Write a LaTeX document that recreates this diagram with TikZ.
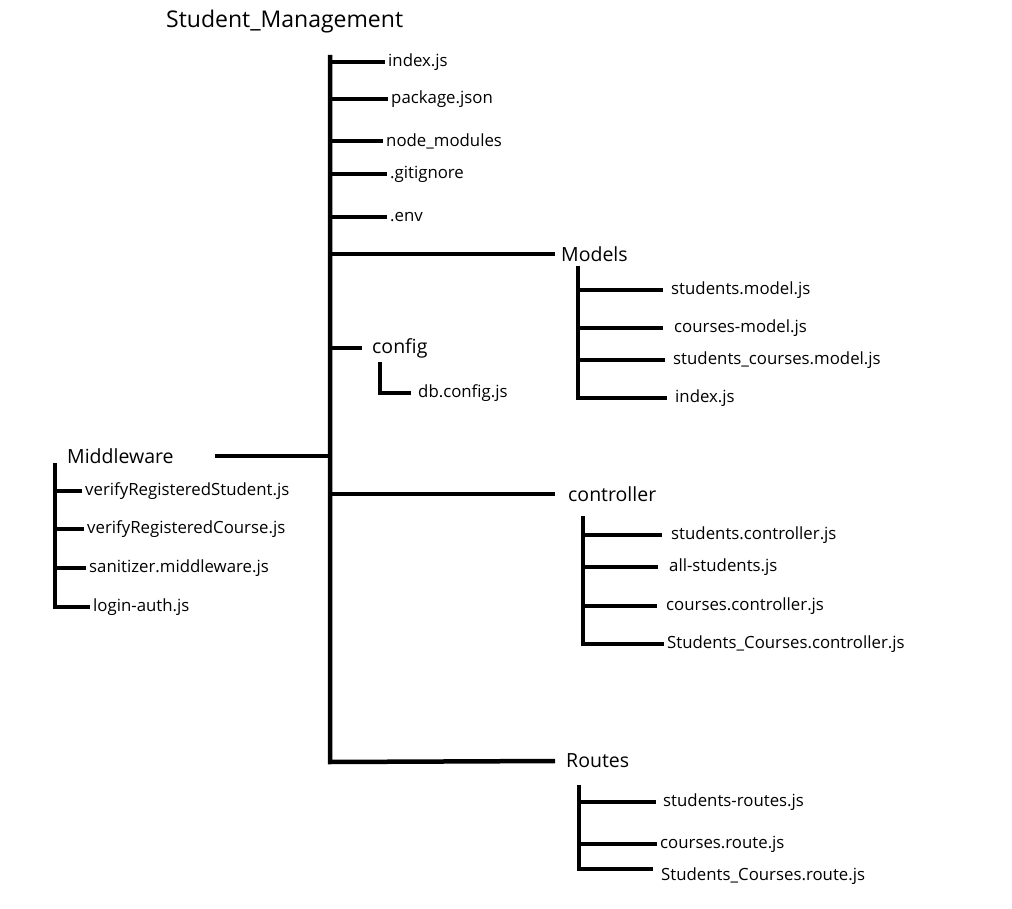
\documentclass[tikz,border=0pt]{standalone}
\usepackage{fontspec}
\setmainfont{Open Sans}

\begin{document}
\begin{tikzpicture}[x=1pt,y=-1pt]
\useasboundingbox (0,0) rectangle (1012,909);

\node[anchor=west,inner sep=3pt,font=\fontsize{23}{27}\selectfont] (root) at (163,22) {Student\_Management};

% folders
\begin{scope}[every node/.style={anchor=west,inner sep=3pt,font=\fontsize{19.5}{23}\selectfont}]
    \node (models) at (558,254) {Models};
    \node (config) at (369,348) {config};
    \node (middleware) at (64,456) {Middleware};
    \node (controller) at (565,494) {controller};
    \node (routes) at (563,761) {Routes};
\end{scope}

% files
\begin{scope}[every node/.style={anchor=west,inner sep=3pt,font=\fontsize{16.8}{20}\selectfont}]
    \node (index) at (385,62) {index.js};
    \node (package) at (388,99) {package.json};
    \node (nodemodules) at (383,141) {node\_modules};
    \node (gitignore) at (387,174) {.gitignore};
    \node (env) at (387,217) {.env};

    \node (dbconfig) at (415,393) {db.config.js};

    \node (studentsmodel) at (668,290) {students.model.js};
    \node (coursesmodel) at (671,328) {courses-model.js};
    \node (stucoursesmodel) at (670,360) {students\_courses.model.js};
    \node (modelsindex) at (672,398) {index.js};

    \node (verifystudent) at (82,491) {verifyRegisteredStudent.js};
    \node (verifycourse) at (84,529) {verifyRegisteredCourse.js};
    \node (sanitizer) at (86,568) {sanitizer.middleware.js};
    \node (loginauth) at (90,607) {login-auth.js};

    \node (studentsctrl) at (668,535) {students.controller.js};
    \node (allstudents) at (666,567) {all-students.js};
    \node (coursesctrl) at (663,606) {courses.controller.js};
    \node (stucoursesctrl) at (664,644) {Students\_Courses.controller.js};

    \node (studentsroutes) at (660,802) {students-routes.js};
    \node (coursesroute) at (657,844) {courses.route.js};
    \node (stucoursesroute) at (658,876) {Students\_Courses.route.js};
\end{scope}

\coordinate (trunktop) at (330,55);
\coordinate (trunkbot) at (330,762);
\coordinate (configtop) at (380,362);
\coordinate (modelstop) at (578,266);
\coordinate (mwtop) at (55,463);
\coordinate (ctrltop) at (583,516);
\coordinate (routestop) at (579,785);

\begin{scope}[line width=4.5pt, line join=miter]
    \draw (trunktop) -- (trunkbot) -- ([xshift=-8pt]routes.west);
    \draw (trunktop |- index.west) -- (index.west);
    \draw (trunktop |- package.west) -- (package.west);
    \draw (trunktop |- nodemodules.west) -- (nodemodules.west);
    \draw (trunktop |- gitignore.west) -- (gitignore.west);
    \draw (trunktop |- env.west) -- (env.west);
    \draw (trunktop |- models.west) -- ([xshift=-3pt]models.west);
    \draw (trunktop |- config.west) -- ([xshift=-7pt]config.west);
    \draw (trunktop |- controller.west) -- ([xshift=-10pt]controller.west);
    \draw ([xshift=38pt]middleware.east) -- (trunktop |- middleware.east);

    \draw (configtop) -- (configtop |- dbconfig.west) -- ([xshift=-4pt]dbconfig.west);

    \draw (modelstop) -- (modelstop |- modelsindex.west) -- ([xshift=-5pt]modelsindex.west);
    \draw (modelstop |- studentsmodel.west) -- ([xshift=-5pt]studentsmodel.west);
    \draw (modelstop |- coursesmodel.west) -- ([xshift=-8pt]coursesmodel.west);
    \draw (modelstop |- stucoursesmodel.west) -- ([xshift=-5pt]stucoursesmodel.west);

    \draw (mwtop) -- (mwtop |- loginauth.west) -- (loginauth.west);
    \draw (mwtop |- verifystudent.west) -- (verifystudent.west);
    \draw (mwtop |- verifycourse.west) -- (verifycourse.west);
    \draw (mwtop |- sanitizer.west) -- (sanitizer.west);

    \draw (ctrltop) -- (ctrltop |- stucoursesctrl.west) -- (stucoursesctrl.west);
    \draw (ctrltop |- studentsctrl.west) -- ([xshift=-6pt]studentsctrl.west);
    \draw (ctrltop |- allstudents.west) -- ([xshift=-8pt]allstudents.west);
    \draw (ctrltop |- coursesctrl.west) -- ([xshift=-6pt]coursesctrl.west);

    \draw (routestop) -- ([yshift=7pt]routestop |- stucoursesroute.west) -- ([yshift=7pt,xshift=-5pt]stucoursesroute.west);
    \draw (routestop |- studentsroutes.west) -- ([xshift=-4pt]studentsroutes.west);
    \draw (routestop |- coursesroute.west) -- (coursesroute.west);
\end{scope}
\end{tikzpicture}
\end{document}
